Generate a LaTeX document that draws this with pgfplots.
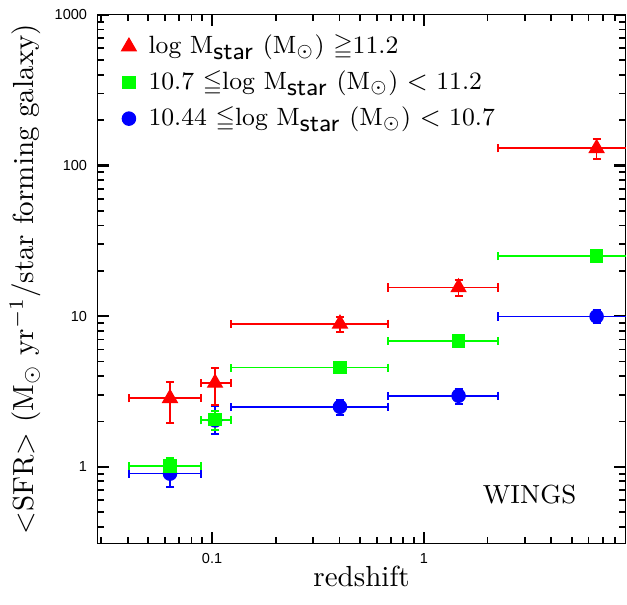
\documentclass[border=0pt]{standalone}
\usepackage{amssymb}
\usepackage{fontspec}
\newfontfamily\ticksf{Liberation Sans}
\usepackage{pgfplots}
\usepackage{pgfplotstable}
\pgfplotsset{compat=1.18}

% x, y, x error minus/plus, y error minus/plus
\pgfplotstableread{
x y xm xp ym yp
0.0633 2.85 0.0227 0.0254 0.89 0.82
0.1033 3.60 0.0146 0.0197 1.02 0.95
0.402 8.9 0.279 0.274 1.1 1.0
1.46 15.5 0.784 0.77 1.9 1.9
6.55 130 4.32 10 19 20
}\redtab
\pgfplotstableread{
x y xm xp ym yp
0.0633 1.01 0.0227 0.0254 0.14 0.14
0.1033 2.05 0.0146 0.0197 0.3 0.3
0.402 4.55 0.279 0.274 0.3 0.3
1.46 6.85 0.784 0.77 0.4 0.4
6.55 25 4.32 10 1.2 1.2
}\greentab
\pgfplotstableread{
x y xm xp ym yp
0.0633 0.90 0.0227 0.0254 0.17 0.15
0.1033 2.03 0.0146 0.0197 0.37 0.5
0.402 2.5 0.279 0.274 0.28 0.28
1.46 2.96 0.784 0.77 0.34 0.34
6.55 9.95 4.32 10 1.0 1.0
}\bluetab

\definecolor{myred}{RGB}{255,0,0}
\definecolor{mygreen}{RGB}{0,255,0}
\definecolor{myblue}{RGB}{0,0,255}

\pgfplotsset{
  myerr/.style={
    error bars/x dir=both, error bars/x explicit,
    error bars/y dir=both, error bars/y explicit,
    error bars/error mark=|,
    error bars/error bar style={line width=0.55pt, draw=#1},
    error bars/error mark options={mark size=1.4pt, line width=0.7pt, draw=#1, solid},
  },
}

\begin{document}
\begin{tikzpicture}
\begin{axis}[
  xmode=log, ymode=log,
  scale only axis, width=182pt, height=182pt,
  xmin=0.0287, xmax=9, ymin=0.31, ymax=1000,
  xtick={0.1,1}, ytick={1,10,100,1000},
  minor xtick={0.03,0.04,0.05,0.06,0.07,0.08,0.09,0.2,0.3,0.4,0.5,0.6,0.7,0.8,0.9,2,3,4,5,6,7,8},
  minor ytick={0.4,0.5,0.6,0.7,0.8,0.9,2,3,4,5,6,7,8,9,20,30,40,50,60,70,80,90,200,300,400,500,600,700,800,900},
  log ticks with fixed point,
  /pgf/number format/1000 sep={},
  /pgf/number format/assume math mode=true,
  tick label style={font=\ticksf\fontsize{5}{6}\selectfont},
  every tick/.append style={draw=black, line width=0.8pt},
  every minor tick/.append style={draw=black, line width=0.6pt},
  major tick length=4pt, minor tick length=2.2pt,
  xlabel={redshift},
  ylabel={$<$SFR$>$ (M$_\odot$ yr$^{-1}$/star forming galaxy)},
  xlabel style={yshift=6pt},
  ylabel style={yshift=-2pt},
  reverse legend=true,
  legend image code/.code={\draw[#1] plot coordinates {(0cm,0cm)}; \path (0.16cm,0cm);},
  legend style={draw=none, fill=none, at={(0.045,0.975)}, anchor=north west,
    font=\fontsize{8.6}{10}\selectfont, row sep=0pt, inner sep=0pt,
    nodes={inner ysep=2.2pt}},
  legend cell align=left,
]
\addplot[only marks, myblue, mark=*, mark size=2.3pt, myerr=myblue]
  table[x=x, y=y, x error minus=xm, x error plus=xp, y error minus=ym, y error plus=yp] {\bluetab};
\addlegendentry{10.44 $\leqq$log M$_{\textsf{star}}$ (M$_\odot$) $<$ 10.7}
\addplot[only marks, mygreen, mark=square*, mark size=2.1pt, myerr=mygreen]
  table[x=x, y=y, x error minus=xm, x error plus=xp, y error minus=ym, y error plus=yp] {\greentab};
\addlegendentry{10.7 $\leqq$log M$_{\textsf{star}}$ (M$_\odot$) $<$ 11.2}
\addplot[only marks, myred, mark=triangle*, mark size=2.9pt, myerr=myred]
  table[x=x, y=y, x error minus=xm, x error plus=xp, y error minus=ym, y error plus=yp] {\redtab};
\addlegendentry{log M$_{\textsf{star}}$ (M$_\odot$) $\geqq$11.2}
\node[anchor=center, font=\small] at (axis cs:3.16,0.65) {WINGS};
\end{axis}
\path (current bounding box.south) ++(0,-2.5pt);
\end{tikzpicture}
\end{document}
